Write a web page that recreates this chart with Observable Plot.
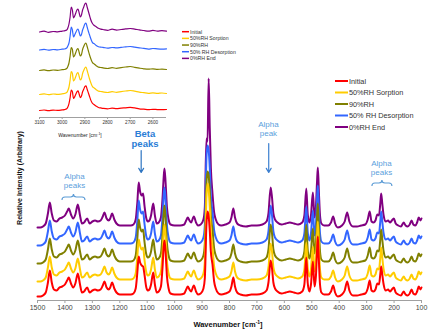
<!DOCTYPE html>
<html><head><meta charset="utf-8">
<script src="https://cdn.jsdelivr.net/npm/d3@7"></script>
<script src="https://cdn.jsdelivr.net/npm/@observablehq/plot@0.6"></script>
<style>
html,body{margin:0;padding:0;background:#fff;}
#wrap{position:relative;width:429px;height:329px;overflow:hidden;font-family:"Liberation Sans",Arial,sans-serif;}
#wrap svg{position:absolute;left:0;top:0;}
</style></head><body><div id="wrap"></div>
<script>
// ---------- series ----------
const seriesNames = ["Initial", "50%RH Sorption", "90%RH", "50% RH Desorption", "0%RH End"];
const seriesColors = ["#FF0000", "#FFCC00", "#808000", "#3366FF", "#800080"];

// ---------- main spectrum (wavenumber, cm-1) ----------
const wavenumber = [
1500,1490,1480,1470,1462,1455,1448,1440,1430,1420,
1410,1400,1392,1386,1378,1370,1362,1353,1345,1338,
1330,1319,1310,1300,1290,1280,1270,1262,1256,1248,
1240,1235,1228,1220,1212,1200,1180,1160,1150,1142,
1136,1131,1126,1120,1115,1110,1104,1098,1092,1086,
1078,1072,1065,1058,1050,1044,1040,1037,1033,1028,
1022,1015,1000,980,965,958,952,946,940,930,
922,915,905,895,890,884,880,876,872,868,
862,856,850,840,830,815,800,793,786,780,
772,760,740,720,700,680,665,658,650,645,
640,634,625,610,595,580,565,550,535,527,
520,515,509,503,496,490,485,481,478,474,
470,465,455,440,430,422,415,405,390,380,
371,363,350,335,320,305,296,289,282,275,
268,261,255,250,247,243,238,230,222,215,
208,201,194,185,175,165,158,150,143,136,
130,122,116,110,104,100];

const initialMain = [
4,4,5,8,18,30,18,11,10,13,
14,16,20,23,17,13,17,27,16,8,
9,13,8,10,11,10,11,15,19,13,
11,13,18,12,8,6,6,6,7,12,
28,44,38,35,34,26,14,10,11,16,
28,16,8,9,14,34,54,60,48,24,
12,7,6,6,7,11,14,11,9,15,
9,6,7,12,22,76,89,84,70,49,
36,19,12,7,6,7,9,14,23,14,
8,6,5,6,6,7,10,18,40,32,
18,12,9,7,8,9,8,7,9,16,
43,18,9,16,39,14,24,49,64,39,
16,8,6,6,9,15,8,4,6,10,
19,10,5,5,6,7,12,20,10,9,
11,17,16,27,34,26,16,10,11,9,
11,13,8,6,5,9,6,5,7,11,
7,6,9,14,11,13];

const sorption50Main = [
19,19,20,23,33,44,33,26,25,28,
29,31,35,38,32,28,32,42,31,23,
24,28,23,25,26,25,26,30,34,28,
26,28,33,27,23,21,21,21,22,27,
44,61,55,51,53,41,29,25,26,31,
43,31,23,24,29,49,69,76,64,39,
27,22,21,21,22,26,29,26,24,30,
24,21,22,27,39,104,117,111,94,69,
53,34,27,22,21,22,24,29,38,29,
23,21,20,21,21,22,25,33,57,49,
33,27,24,22,23,24,23,22,24,31,
58,33,24,31,54,29,39,64,79,54,
31,23,21,21,24,30,23,19,21,25,
34,25,20,20,21,22,27,35,25,24,
26,32,31,44,53,43,31,25,26,24,
26,28,23,21,20,24,21,20,22,26,
22,21,24,29,26,28];

const rh90Main = [
37,37,38,41,51,62,51,44,43,46,
47,49,53,56,50,46,50,60,49,41,
42,46,41,43,44,43,44,48,52,46,
44,46,51,45,41,39,39,39,40,45,
62,81,73,69,71,59,47,43,44,49,
61,49,41,42,47,67,87,95,82,57,
45,40,39,39,40,44,47,44,42,48,
42,39,40,45,57,117,129,125,109,85,
71,52,45,40,39,40,42,47,56,47,
41,39,38,39,39,40,43,51,76,67,
51,45,42,40,41,42,41,40,42,49,
76,51,42,49,72,47,57,82,97,72,
49,41,39,39,42,48,41,37,39,43,
52,43,38,38,39,40,45,53,43,42,
44,50,49,62,71,61,49,43,44,42,
44,46,41,39,38,42,39,38,40,44,
40,39,42,47,44,46];

const desorption50Main = [
55,55,56,59,69,80,69,62,61,64,
65,67,71,74,68,64,68,78,67,59,
60,64,59,61,62,61,62,66,70,64,
62,64,69,63,59,57,57,57,58,63,
80,100,91,87,89,77,65,61,62,67,
79,67,59,60,65,85,105,113,100,75,
63,58,57,57,58,62,65,62,60,66,
60,57,58,63,75,143,155,150,133,105,
89,70,63,58,57,58,60,65,74,65,
59,57,56,57,57,58,61,69,95,85,
69,63,60,58,59,60,59,58,60,67,
94,69,60,67,90,65,75,100,115,90,
67,59,57,57,60,66,59,55,57,61,
70,61,56,56,57,58,63,71,61,60,
62,68,67,80,89,79,67,61,62,60,
62,64,59,57,56,60,57,56,58,62,
58,57,60,65,62,64];

const end0Main = [
73,73,74,77,87,98,87,80,79,82,
83,85,89,92,86,82,86,96,85,77,
78,82,77,79,80,79,80,84,88,82,
80,82,87,81,77,75,75,75,76,81,
98,118,109,105,107,95,83,79,80,85,
97,85,77,78,83,103,123,132,118,93,
81,76,75,75,76,80,83,80,78,84,
78,75,76,81,93,162,159,222,173,133,
107,88,81,76,75,76,78,83,92,83,
77,75,74,75,75,76,79,87,113,103,
87,81,78,76,77,78,77,76,78,85,
112,87,78,85,108,83,93,118,133,108,
85,77,75,75,78,84,77,73,75,79,
88,79,74,74,75,76,81,89,79,78,
80,86,85,98,107,97,85,79,80,78,
80,82,77,75,74,78,75,74,76,80,
76,75,78,83,80,82];

const mainTicks = [1500,1400,1300,1200,1100,1000,900,800,700,600,500,400,300,200,100];

// ---------- inset (C-H region) ----------
const insetWavenumber = [
3100,3080,3060,3040,3020,3000,2990,2980,2975,2970,
2965,2960,2955,2950,2945,2940,2935,2930,2925,2920,
2915,2910,2905,2900,2895,2890,2885,2880,2875,2870,
2865,2860,2850,2840,2830,2820,2800,2780,2760,2740,
2720,2700,2680,2660,2640,2620,2600,2580,2560,2540];

const initialInset = [
7.0,7.5,6.8,7.4,7.1,7.6,7.9,8.7,10.4,13.8,
19.8,27.4,25.7,19.0,20.6,23.2,25.7,26.6,23.2,19.8,
21.5,25.7,28.3,30.8,31.7,28.3,24.9,21.5,18.1,15.5,
13.8,13.0,11.3,10.0,9.6,9.2,8.7,9.3,8.8,9.4,
9.7,10.1,9.6,8.7,8.3,7.8,8.2,7.9,7.8,8.0];

const sorption50Inset = [
23.0,23.6,22.9,23.5,23.1,23.7,24.0,25.0,27.0,30.5,
37.5,46.0,44.0,36.5,38.0,41.0,44.0,45.0,41.0,37.5,
39.0,44.0,47.0,49.5,50.5,47.0,43.0,39.0,35.5,32.5,
30.5,29.8,27.8,26.3,26.0,25.6,25.0,25.8,25.2,25.9,
26.5,27.0,26.3,25.4,24.8,24.2,24.7,24.1,24.5,24.0];

const rh90Inset = [
47.0,47.6,46.8,47.5,47.2,47.8,48.0,49.0,51.0,54.5,
61.5,70.0,68.0,60.5,62.0,65.0,68.0,69.0,65.0,61.5,
63.0,68.0,71.0,73.5,74.5,71.0,67.0,63.0,59.5,56.5,
54.5,53.8,51.8,50.3,50.0,49.6,49.0,49.8,49.2,49.9,
50.5,51.0,50.2,49.4,48.7,48.3,48.7,48.1,48.4,48.0];

const desorption50Inset = [
67.5,68.2,67.3,68.0,67.6,68.3,68.5,69.5,71.5,74.5,
81.5,90.5,87.5,80.5,82.5,85.0,87.5,88.5,85.0,81.5,
83.0,87.5,90.5,93.5,94.5,90.5,86.5,83.0,79.5,76.5,
74.5,74.0,72.0,70.7,70.3,70.2,69.3,70.0,69.6,70.2,
70.6,71.0,70.3,69.7,69.1,68.4,69.0,68.6,68.4,68.6];

const end0Inset = [
85.5,86.3,85.2,86.0,85.6,86.4,86.7,87.5,89.5,93.5,
100.5,110.5,107.5,99.5,101.5,104.5,107.5,108.5,104.5,100.5,
102.5,107.5,110.5,113.5,114.5,110.5,106.5,102.5,98.5,95.5,
93.5,92.3,90.7,89.2,88.3,88.0,87.2,88.3,87.4,88.0,
88.6,89.0,88.4,87.6,87.0,86.3,87.1,86.4,86.8,86.3];

const insetTicks = [3100,3000,2900,2800,2700,2600];

// ---------- annotations ----------
const alphaText = ["Alpha\npeaks", "Alpha\npeak", "Alpha\npeaks"];
const alphaW = [1365, 658, 246];
const alphaI = [120, 172, 133];
const betaText = ["Beta\npeaks"];
const betaW = [1108];
const betaI = [162];
const arrowW = [1122, 657];
const arrowFrom = [150, 157];
const arrowTo = [128, 128];
const braceFrom = [1409, 279];
const braceTo = [1325, 206];
const braceI = [103, 117];

// ---------- build ----------
const FONT = "'Liberation Sans', Arial, Helvetica, sans-serif";
const drawOrder = [4, 3, 2, 1, 0]; // top trace first, Initial drawn last
const mainSeries = [initialMain, sorption50Main, rh90Main, desorption50Main, end0Main];
const insetSeries = [initialInset, sorption50Inset, rh90Inset, desorption50Inset, end0Inset];

const mainRows = drawOrder.flatMap(i => wavenumber.map((w, j) => ({w, v: mainSeries[i][j], s: seriesNames[i]})));
const insetRows = drawOrder.flatMap(i => insetWavenumber.map((w, j) => ({w, v: insetSeries[i][j], s: seriesNames[i]})));

const alphas = alphaText.map((t, i) => ({t, w: alphaW[i], v: alphaI[i]}));
const betas = betaText.map((t, i) => ({t, w: betaW[i], v: betaI[i]}));
const arrows = arrowW.map((w, i) => ({w, a: arrowFrom[i], b: arrowTo[i], c: i === 0 ? "#2E75C2" : "#3C7FD0"}));

const main = Plot.plot({
  width: 429, height: 329,
  marginLeft: 37, marginRight: 8, marginTop: 60, marginBottom: 29,
  style: {background: "transparent", overflow: "visible", fontFamily: FONT},
  x: {domain: [1500, 100], axis: null},
  y: {domain: [0, 240], axis: null},
  color: {domain: seriesNames, range: seriesColors},
  marks: [
    Plot.ruleY([0], {stroke: "#a0a0a0", strokeWidth: 1}),
    Plot.axisX(mainTicks, {tickFormat: "d", tickSize: 3, tickPadding: 1.5, fontSize: 7, stroke: "#a0a0a0", fill: "#444", label: null}),
    Plot.line(mainRows, {x: "w", y: "v", z: "s", stroke: "s", strokeWidth: 2, strokeLinejoin: "round", curve: "monotone-x"}),
    Plot.arrow(arrows, {x1: "w", x2: "w", y1: "a", y2: "b", stroke: "c", strokeWidth: 1.2, headLength: 6}),
    Plot.text(alphas, {x: "w", y: "v", text: "t", fill: "#5BA0DC", fontSize: 8, lineHeight: 1.2}),
    Plot.text(betas, {x: "w", y: "v", text: "t", fill: "#2A7DD6", fontSize: 9.5, fontWeight: "bold", lineHeight: 1.1})
  ]
});

const wrap = document.getElementById("wrap");
wrap.appendChild(main);

const svg = d3.select(main);
const xs = main.scale("x"), ys = main.scale("y");

// braces
function bracePath(xa, xb, y, h) {
  const x1 = Math.min(xa, xb), x2 = Math.max(xa, xb), xm = (x1 + x2) / 2;
  return `M${x1},${y + h} Q${x1},${y} ${x1 + h},${y} L${xm - h},${y} Q${xm},${y} ${xm},${y - h} Q${xm},${y} ${xm + h},${y} L${x2 - h},${y} Q${x2},${y} ${x2},${y + h}`;
}
braceFrom.forEach((b, i) => {
  svg.append("path").attr("d", bracePath(xs.apply(b), xs.apply(braceTo[i]), ys.apply(braceI[i]), 3))
    .attr("fill", "none").attr("stroke", "#5B9BD5").attr("stroke-width", 1.1);
});

// axis titles
const xt = svg.append("text").attr("x", 228).attr("y", 326.5).attr("text-anchor", "middle")
  .attr("font-family", FONT).attr("font-size", 7.5).attr("font-weight", "bold").attr("fill", "#111");
xt.append("tspan").text("Wavenumber [cm");
xt.append("tspan").attr("dy", -3).attr("font-size", 5).text("-1");
xt.append("tspan").attr("dy", 3).text("]");

svg.append("text").attr("transform", "translate(21.5,178) rotate(-90)").attr("text-anchor", "middle")
  .attr("font-family", FONT).attr("font-size", 7).attr("font-weight", "bold").attr("fill", "#111")
  .text("Relative Intensity (Arbitrary)");

// main legend
const lg = svg.append("g").attr("font-family", FONT).attr("font-size", 7.3).attr("fill", "#333").attr("text-anchor", "start");
seriesNames.forEach((n, i) => {
  const y = 81 + 11.5 * i;
  lg.append("line").attr("x1", 335).attr("x2", 348).attr("y1", y).attr("y2", y)
    .attr("stroke", seriesColors[i]).attr("stroke-width", 2);
  lg.append("text").attr("x", 349).attr("y", y + 2.6).attr("text-anchor", "start").text(n);
});

// ---------- inset ----------
const inset = Plot.plot({
  width: 180, height: 140,
  marginLeft: 39, marginRight: 14, marginTop: 0, marginBottom: 23,
  style: {background: "transparent", overflow: "visible", fontFamily: FONT},
  x: {domain: [3100, 2540], axis: null},
  y: {domain: [0, 117], axis: null},
  color: {domain: seriesNames, range: seriesColors},
  marks: [
    Plot.ruleY([0], {stroke: "#a0a0a0", strokeWidth: 1}),
    Plot.axisX(insetTicks, {tickFormat: "d", tickSize: 2, tickPadding: 1.5, fontSize: 4.6, stroke: "#a0a0a0", fill: "#333", label: null}),
    Plot.line(insetRows, {x: "w", y: "v", z: "s", stroke: "s", strokeWidth: 1.2, strokeLinejoin: "round", curve: "monotone-x"})
  ]
});
wrap.appendChild(inset);
const isvg = d3.select(inset);
const it = isvg.append("text").attr("x", 80).attr("y", 137).attr("text-anchor", "middle")
  .attr("font-family", FONT).attr("font-size", 5).attr("fill", "#222");
it.append("tspan").text("Wavenumber [cm");
it.append("tspan").attr("dy", -2).attr("font-size", 3.5).text("-1");
it.append("tspan").attr("dy", 2).text("]");

const ilg = isvg.append("g").attr("font-family", FONT).attr("font-size", 5.2).attr("fill", "#333").attr("text-anchor", "start");
seriesNames.forEach((n, i) => {
  const y = 31.7 + 6.67 * i;
  ilg.append("line").attr("x1", 182).attr("x2", 189).attr("y1", y).attr("y2", y)
    .attr("stroke", seriesColors[i]).attr("stroke-width", 1.5);
  ilg.append("text").attr("x", 190).attr("y", y + 1.8).attr("text-anchor", "start").text(n);
});
</script>
</body></html>
